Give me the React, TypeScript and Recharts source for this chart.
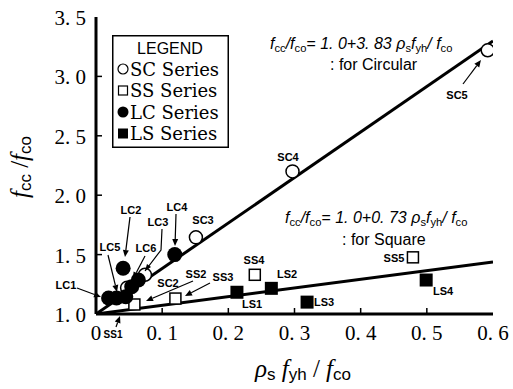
import { Legend, Scatter, ScatterChart, XAxis, YAxis } from "recharts";

const W = 513;
const H = 389;
const INK = "#000";

// x ticks / y ticks
const xTicks = [0, 0.1, 0.2, 0.3, 0.4, 0.5, 0.6];
const xTickLabels = ["0", "0. 1", "0. 2", "0. 3", "0. 4", "0. 5", "0. 6"];
const yTicks = [1.0, 1.5, 2.0, 2.5, 3.0, 3.5];
const yTickLabels = ["1. 0", "1. 5", "2. 0", "2. 5", "3. 0", "3. 5"];

// SC series (open circles)
const scX = [0.047, 0.074, 0.151, 0.297, 0.592];
const scY = [1.22, 1.33, 1.645, 2.2, 3.22];
// SS series (open squares)
const ssX = [0.058, 0.12, 0.24, 0.479];
const ssY = [1.08, 1.13, 1.33, 1.477];
// LC series (filled circles)
const lcX = [0.019, 0.031, 0.045, 0.054, 0.064, 0.041, 0.119];
const lcY = [1.135, 1.135, 1.145, 1.23, 1.286, 1.385, 1.5];
// LS series (filled squares)
const lsX = [0.213, 0.265, 0.319, 0.499];
const lsY = [1.183, 1.216, 1.1, 1.286];

// fitted lines (end points)
const circFitX = [0, 0.6];
const circFitY = [1.0, 3.298];
const sqFitX = [0, 0.6];
const sqFitY = [1.0, 1.438];

const zip = (xs: number[], ys: number[]) => xs.map((x, i) => ({ x, y: ys[i] }));

const sc = zip(scX, scY);
const ss = zip(ssX, ssY);
const lc = zip(lcX, lcY);
const ls = zip(lsX, lsY);
const circFit = zip(circFitX, circFitY);
const sqFit = zip(sqFitX, sqFitY);

// point labels [text, x, y] in pixels, plus arrows
const pointLabels: [string, number, number][] = [
  ["SC5", 457, 99],
  ["SC4", 288, 161],
  ["SC3", 203, 224],
  ["LC4", 177, 211],
  ["LC3", 158, 226],
  ["LC2", 131, 214],
  ["LC5", 110, 251],
  ["LC6", 146, 252],
  ["LC1", 66, 289],
  ["SC2", 168, 287],
  ["SS2", 196, 278],
  ["SS3", 223, 281],
  ["SS4", 254, 264],
  ["SS5", 394, 262],
  ["LS1", 252, 308],
  ["LS2", 287, 278],
  ["LS3", 324, 306],
  ["LS4", 443, 295],
];

const arrows: number[][] = [
  [463, 84, 481, 60],
  [176, 214, 175, 246],
  [130, 217, 125, 257],
  [108, 255, 117, 292],
  [145, 256, 133, 279],
  [77, 288, 101, 297],
  [193, 281, 146, 301],
  [210, 283, 185, 296],
  [116, 327, 120, 316],
];

const lbl = {
  fontFamily: "'Liberation Sans Narrow', 'Liberation Sans', Arial, sans-serif",
  fontWeight: 700,
  fontSize: 11,
};

function BottomTick({ x, y, index }: any) {
  const inner = index > 0 && index < xTicks.length - 1;
  return (
    <g>
      {inner && <line x1={x} y1={y} x2={x} y2={y - 6} stroke={INK} strokeWidth={1.5} />}
      <text
        x={x}
        y={y + 26}
        textAnchor="middle"
        fontFamily="'Liberation Serif', serif"
        fontSize={21}
        fill={INK}
      >
        {xTickLabels[index]}
      </text>
    </g>
  );
}

function LeftTick({ x, y, index }: any) {
  const inner = index > 0 && index < yTicks.length - 1;
  return (
    <g>
      {inner && <line x1={x} y1={y} x2={x + 6} y2={y} stroke={INK} strokeWidth={1.5} />}
      <text
        x={x - 10}
        y={y + 8}
        textAnchor="end"
        fontFamily="'Liberation Serif', serif"
        fontSize={21}
        fill={INK}
      >
        {yTickLabels[index]}
      </text>
    </g>
  );
}

function TopTick({ x, y, index }: any) {
  if (index === 0 || index === xTicks.length - 1) return <g />;
  return <line x1={x} y1={y} x2={x} y2={y + 6} stroke={INK} strokeWidth={1.5} />;
}

function RightTick({ x, y, index }: any) {
  if (index === 0 || index === yTicks.length - 1) return <g />;
  return <line x1={x} y1={y} x2={x - 6} y2={y} stroke={INK} strokeWidth={1.5} />;
}

const OpenCircle = (p: any) => (
  <circle cx={p.cx} cy={p.cy} r={6.5} fill="#fff" stroke={INK} strokeWidth={1.5} />
);
const OpenSquare = (p: any) => (
  <rect x={p.cx - 5.5} y={p.cy - 5.5} width={11} height={11} fill="#fff" stroke={INK} strokeWidth={1.5} />
);
const FilledCircle = (p: any) => <circle cx={p.cx} cy={p.cy} r={7.5} fill={INK} />;
const FilledSquare = (p: any) => (
  <rect x={p.cx - 6.5} y={p.cy - 6.5} width={13} height={13} fill={INK} />
);
const NoDot = () => <g />;

const legendItems = [
  { name: "SC Series", kind: "oc" },
  { name: "SS Series", kind: "os" },
  { name: "LC Series", kind: "fc" },
  { name: "LS Series", kind: "fs" },
];

function LegendBox() {
  return (
    <svg width={117} height={113} style={{ display: "block" }}>
      <rect x={0.75} y={0.75} width={115.5} height={111.5} fill="#fff" stroke={INK} strokeWidth={1.5} />
      <text x={58} y={19} textAnchor="middle" fontFamily="'Liberation Sans', Arial, sans-serif" fontSize={16} fill={INK}>
        LEGEND
      </text>
      {legendItems.map((it, i) => {
        const cy = 34 + i * 21.5;
        const cx = 11;
        return (
          <g key={it.name}>
            {it.kind === "oc" && <circle cx={cx} cy={cy} r={5} fill="#fff" stroke={INK} strokeWidth={1.2} />}
            {it.kind === "os" && <rect x={cx - 4.5} y={cy - 4.5} width={9} height={9} fill="#fff" stroke={INK} strokeWidth={1.2} />}
            {it.kind === "fc" && <circle cx={cx} cy={cy} r={5.5} fill={INK} />}
            {it.kind === "fs" && <rect x={cx - 5} y={cy - 5} width={10} height={10} fill={INK} />}
            <text x={18} y={cy + 6.5} fontFamily="'DejaVu Serif', serif" fontSize={18} fill={INK}>
              {it.name}
            </text>
          </g>
        );
      })}
    </svg>
  );
}

function Sub({ children }: { children: string }) {
  return (
    <tspan fontSize="0.7em" fontStyle="normal" dy={3}>
      {children}
    </tspan>
  );
}

function Overlay() {
  const eq = { fontFamily: "'Liberation Sans', Arial, sans-serif", fontStyle: "italic" as const, fontSize: 16 };
  const note = { fontFamily: "'Liberation Sans', Arial, sans-serif", fontSize: 16 };
  return (
    <svg width={W} height={H} style={{ position: "absolute", left: 0, top: 0, pointerEvents: "none" }}>
      {/* equations */}
      <text x={270} y={49} {...eq} fill={INK}>
        f<Sub>cc</Sub>
        <tspan dy={-3}>/f</tspan>
        <Sub>co</Sub>
        <tspan dy={-3}>= 1. 0+3. 83 ρ</tspan>
        <Sub>s</Sub>
        <tspan dy={-3}>f</tspan>
        <Sub>yh</Sub>
        <tspan dy={-3}>/ f</tspan>
        <Sub>co</Sub>
      </text>
      <text x={330} y={70} {...note} fill={INK}>
        : for Circular
      </text>
      <text x={285} y={223} {...eq} fill={INK}>
        f<Sub>cc</Sub>
        <tspan dy={-3}>/f</tspan>
        <Sub>co</Sub>
        <tspan dy={-3}>= 1. 0+0. 73 ρ</tspan>
        <Sub>s</Sub>
        <tspan dy={-3}>f</tspan>
        <Sub>yh</Sub>
        <tspan dy={-3}>/ f</tspan>
        <Sub>co</Sub>
      </text>
      <text x={342} y={245} {...note} fill={INK}>
        : for Square
      </text>

      {/* point labels */}
      {pointLabels.map(([t, x, y]) => (
        <text key={t} x={x} y={y} textAnchor="middle" {...lbl} fill={INK}>
          {t}
        </text>
      ))}
      <text x={113} y={338} textAnchor="middle" {...lbl} fontSize={10} fill={INK}>
        SS1
      </text>
      {/* LC3 bent arrow */}
      <polyline points="162,229 161,250 145,271" fill="none" stroke={INK} strokeWidth={1.2} />
      <polygon points="145,271 147,264 151,267" fill={INK} />
      {arrows.map(([x1, y1, x2, y2], i) => {
        const a = Math.atan2(y2 - y1, x2 - x1);
        const L = 7;
        const s = 3;
        const bx = x2 - L * Math.cos(a);
        const by = y2 - L * Math.sin(a);
        const px = -Math.sin(a) * s;
        const py = Math.cos(a) * s;
        return (
          <g key={i}>
            <line x1={x1} y1={y1} x2={bx} y2={by} stroke={INK} strokeWidth={1.2} />
            <polygon points={`${x2},${y2} ${bx + px},${by + py} ${bx - px},${by - py}`} fill={INK} />
          </g>
        );
      })}

      {/* axis titles */}
      <text transform="translate(28,167) rotate(-90)" textAnchor="middle" fill={INK}>
        <tspan fontFamily="'Liberation Serif', serif" fontStyle="italic" fontSize={25}>f</tspan>
        <tspan fontFamily="'Liberation Sans', Arial, sans-serif" fontSize={17} dy={3}>cc</tspan>
        <tspan fontFamily="'Liberation Serif', serif" fontSize={25} dy={-3}> /</tspan>
        <tspan fontFamily="'Liberation Serif', serif" fontStyle="italic" fontSize={25}>f</tspan>
        <tspan fontFamily="'Liberation Sans', Arial, sans-serif" fontSize={17} dy={3}>co</tspan>
      </text>
      <text x={303} y={377} textAnchor="middle" fill={INK}>
        <tspan fontFamily="'Liberation Serif', serif" fontStyle="italic" fontSize={25}>ρ</tspan>
        <tspan fontFamily="'Liberation Sans', Arial, sans-serif" fontSize={17} dy={3}>s</tspan>
        <tspan fontFamily="'Liberation Serif', serif" fontStyle="italic" fontSize={25} dy={-3}> f</tspan>
        <tspan fontFamily="'Liberation Sans', Arial, sans-serif" fontSize={17} dy={3}>yh</tspan>
        <tspan fontFamily="'Liberation Serif', serif" fontSize={25} dy={-3}> / </tspan>
        <tspan fontFamily="'Liberation Serif', serif" fontStyle="italic" fontSize={25}>f</tspan>
        <tspan fontFamily="'Liberation Sans', Arial, sans-serif" fontSize={17} dy={3}>co</tspan>
      </text>
    </svg>
  );
}

export default function App() {
  return (
    <div style={{ position: "absolute", left: 0, top: 0, width: W, height: H, background: "#fff" }}>
      <ScatterChart width={W} height={H} margin={{ top: 17, right: 20, bottom: 0, left: 0 }}>
        <XAxis
          dataKey="x"
          type="number"
          domain={[0, 0.6]}
          ticks={xTicks}
          height={75}
          tickSize={0}
          tickMargin={0}
          tick={<BottomTick />}
          axisLine={{ stroke: INK, strokeWidth: 3 }}
          allowDataOverflow
        />
        <XAxis
          xAxisId="top"
          orientation="top"
          type="number"
          domain={[0, 0.6]}
          ticks={xTicks}
          height={0}
          tickSize={0}
          tickMargin={0}
          tick={<TopTick />}
          axisLine={{ stroke: INK, strokeWidth: 2 }}
          allowDataOverflow
        />
        <YAxis
          dataKey="y"
          type="number"
          domain={[1, 3.5]}
          ticks={yTicks}
          width={96}
          tickSize={0}
          tickMargin={0}
          tick={<LeftTick />}
          axisLine={{ stroke: INK, strokeWidth: 3 }}
          allowDataOverflow
        />
        <YAxis
          yAxisId="right"
          orientation="right"
          type="number"
          domain={[1, 3.5]}
          ticks={yTicks}
          width={0}
          tickSize={0}
          tickMargin={0}
          tick={<RightTick />}
          axisLine={{ stroke: INK, strokeWidth: 2 }}
          allowDataOverflow
        />
        <Legend
          layout="horizontal"
          verticalAlign="middle"
          align="center"
          content={() => <LegendBox />}
          wrapperStyle={{ left: 112, top: 35, width: 117, height: 113 }}
        />
        <Scatter
          name="circFit"
          data={circFit}
          line={{ stroke: INK, strokeWidth: 3 }}
          shape={NoDot}
          isAnimationActive={false}
        />
        <Scatter
          name="sqFit"
          data={sqFit}
          line={{ stroke: INK, strokeWidth: 3 }}
          shape={NoDot}
          isAnimationActive={false}
        />
        <Scatter name="SC Series" data={sc} shape={OpenCircle} isAnimationActive={false} />
        <Scatter name="SS Series" data={ss} shape={OpenSquare} isAnimationActive={false} />
        <Scatter name="LC Series" data={lc} shape={FilledCircle} isAnimationActive={false} />
        <Scatter name="LS Series" data={ls} shape={FilledSquare} isAnimationActive={false} />
      </ScatterChart>
      <Overlay />
    </div>
  );
}
